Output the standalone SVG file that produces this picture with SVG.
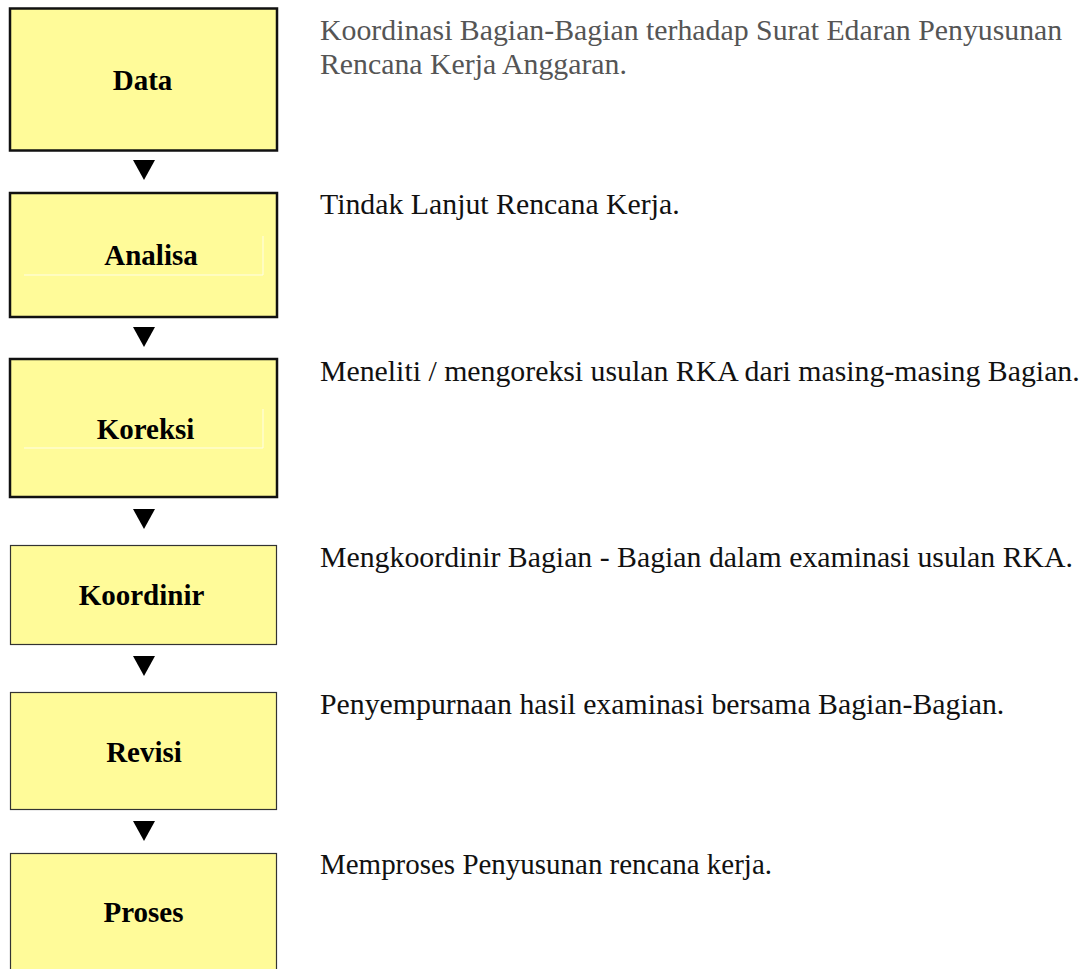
<svg xmlns="http://www.w3.org/2000/svg" width="1086" height="969" viewBox="0 0 1086 969">
<defs>
<style>
.box{fill:#fffb99;stroke:#111;}
.thick{stroke-width:2.5;}
.thin{stroke-width:1.2;stroke:#333;}
.arrow{fill:#000;}
.faint{fill:none;stroke:#fffde8;stroke-width:1;}
</style>
</defs>
<rect width="1086" height="969" fill="#fff"/>
<g id="connectors">
<polygon class="arrow" points="133,160 155,160 144,180"/>
<polygon class="arrow" points="133,327 155,327 144,347"/>
<polygon class="arrow" points="133,509 155,509 144,529"/>
<polygon class="arrow" points="133,656 155,656 144,676"/>
<polygon class="arrow" points="133,821 155,821 144,841"/>
</g>
<g id="node-data">
<rect class="box thick" x="10" y="8.5" width="267" height="142"/>
<text x="142.5" y="90" font-family="Liberation Serif" font-weight="bold" font-size="29" text-anchor="middle">Data</text>
</g>
<g id="node-analisa">
<rect class="box thick" x="10" y="193" width="267" height="124"/>
<polyline class="faint" points="24,275 263,275 263,236"/>
<text x="151" y="265" font-family="Liberation Serif" font-weight="bold" font-size="29" text-anchor="middle">Analisa</text>
</g>
<g id="node-koreksi">
<rect class="box thick" x="10" y="359" width="267" height="138"/>
<polyline class="faint" points="24,448 263,448 263,409"/>
<text x="145.5" y="439" font-family="Liberation Serif" font-weight="bold" font-size="29" text-anchor="middle">Koreksi</text>
</g>
<g id="node-koordinir">
<rect class="box thin" x="10.5" y="545.5" width="266" height="99"/>
<text x="141.5" y="605" font-family="Liberation Serif" font-weight="bold" font-size="29" text-anchor="middle">Koordinir</text>
</g>
<g id="node-revisi">
<rect class="box thin" x="10.5" y="692.5" width="266" height="117"/>
<text x="144" y="762" font-family="Liberation Serif" font-weight="bold" font-size="29" text-anchor="middle">Revisi</text>
</g>
<g id="node-proses">
<rect class="box thin" x="10.5" y="853.5" width="266" height="130"/>
<text x="143.5" y="922" font-family="Liberation Serif" font-weight="bold" font-size="29" text-anchor="middle">Proses</text>
</g>
<g id="descriptions" font-family="Liberation Serif" font-size="29.8" fill="#111">
<text x="320" y="40" fill="#555">Koordinasi Bagian-Bagian terhadap Surat Edaran Penyusunan</text>
<text x="320" y="74" fill="#555">Rencana Kerja Anggaran.</text>
<text x="320" y="214">Tindak Lanjut Rencana Kerja.</text>
<text x="320" y="381">Meneliti / mengoreksi usulan RKA dari masing-masing Bagian.</text>
<text x="320" y="567">Mengkoordinir Bagian - Bagian dalam examinasi usulan RKA.</text>
<text x="320" y="714">Penyempurnaan hasil examinasi bersama Bagian-Bagian.</text>
<text x="320" y="874" textLength="452" lengthAdjust="spacingAndGlyphs">Memproses Penyusunan rencana kerja.</text>
</g>
</svg>
